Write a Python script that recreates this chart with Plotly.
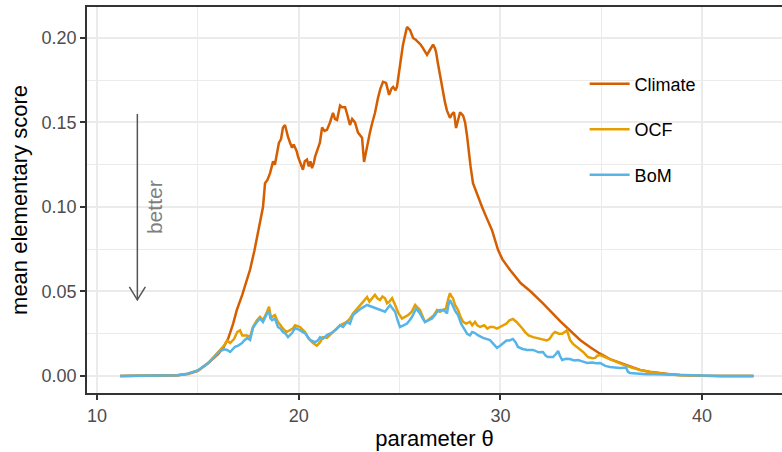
import plotly.graph_objects as go

# ---------------- data ----------------
climate_theta = [11.15, 12.0, 13.0, 13.5, 14.0, 14.5, 15.0, 15.5, 16.0, 16.25, 16.5, 16.75, 16.93, 17.2, 17.44,
                 17.59, 17.8, 18.08, 18.23, 18.33, 18.45, 18.58, 18.73, 18.82, 18.92, 19.02, 19.12, 19.22, 19.32,
                 19.4, 19.47, 19.57, 19.67, 19.75, 19.82, 19.9, 19.97, 20.1, 20.21, 20.3, 20.41, 20.5, 20.58,
                 20.66, 20.75, 20.81, 20.96, 21.05, 21.16, 21.28, 21.40, 21.55, 21.70, 21.8, 21.9, 22.05, 22.15,
                 22.30, 22.4, 22.54, 22.65, 22.79, 22.94, 23.05, 23.14, 23.24, 23.32, 23.39, 23.53, 23.65, 23.78,
                 23.93, 24.05, 24.18, 24.33, 24.48, 24.6, 24.68, 24.8, 24.87, 25.02, 25.17, 25.3, 25.37, 25.45,
                 25.52, 25.67, 25.8, 25.91, 26.05, 26.16, 26.25, 26.36, 26.51, 26.66, 26.75, 26.81, 26.9, 27.0,
                 27.15, 27.25, 27.35, 27.5, 27.6, 27.70, 27.8, 27.9, 28.0, 28.15, 28.25, 28.34, 28.44, 28.52,
                 28.64, 28.85, 29.09, 29.3, 29.58, 29.88, 30.1, 30.48, 31.0, 31.5, 32.11, 32.96, 33.45, 33.95,
                 34.45, 34.94, 35.43, 35.93, 36.42, 36.92, 37.4, 37.91, 38.4, 38.9, 39.5, 40.0, 41.0, 42.55]
climate_score = [0, 0, 0, 0.0001, 0.0004, 0.0012, 0.003, 0.0075, 0.013, 0.0166, 0.022, 0.031, 0.039, 0.048, 0.057,
                 0.063, 0.074, 0.0905, 0.100, 0.114, 0.116, 0.120, 0.127, 0.125, 0.131, 0.138, 0.140, 0.147, 0.1485,
                 0.144, 0.1414, 0.138, 0.135, 0.137, 0.1355, 0.133, 0.1296, 0.126, 0.122, 0.127, 0.128, 0.124, 0.127,
                 0.123, 0.126, 0.1296, 0.135, 0.138, 0.147, 0.145, 0.1456, 0.150, 0.1556, 0.152, 0.1515, 0.160, 0.159,
                 0.159, 0.155, 0.1485, 0.152, 0.150, 0.144, 0.142, 0.141, 0.1266, 0.132, 0.1367, 0.144, 0.150, 0.1556,
                 0.1645, 0.170, 0.174, 0.1734, 0.1663, 0.170, 0.171, 0.169, 0.171, 0.184, 0.196, 0.203, 0.2065, 0.2055,
                 0.2047, 0.200, 0.199, 0.1976, 0.196, 0.194, 0.192, 0.190, 0.193, 0.196, 0.194, 0.1917, 0.185, 0.178,
                 0.168, 0.162, 0.157, 0.1527, 0.155, 0.156, 0.1467, 0.152, 0.156, 0.154, 0.150, 0.1426, 0.130, 0.124,
                 0.114, 0.107, 0.100, 0.094, 0.0864, 0.0746, 0.069, 0.0627, 0.055, 0.050, 0.043, 0.0325, 0.027, 0.0213,
                 0.017, 0.0132, 0.010, 0.0077, 0.0055, 0.0036, 0.0025, 0.0016, 0.001, 0.0006, 0.0003, 0.0001, 0, 0]

ocf_theta = [11.15, 13.0, 13.5, 14.0, 14.5, 15.0, 15.5, 15.75, 16.1, 16.3, 16.45, 16.6, 16.8, 16.95, 17.09, 17.2,
             17.44, 17.59, 17.73, 17.93, 18.08, 18.23, 18.43, 18.53, 18.6, 18.68, 18.82, 18.97, 19.1, 19.22, 19.4,
             19.57, 19.7, 19.82, 20.06, 20.31, 20.5, 20.71, 20.9, 21.06, 21.2, 21.4, 21.7, 22.05, 22.39, 22.54,
             22.69, 22.89, 23.04, 23.2, 23.39, 23.5, 23.78, 23.9, 24.03, 24.15, 24.28, 24.38, 24.5, 24.63, 24.78,
             24.95, 25.12, 25.25, 25.42, 25.6, 25.77, 25.85, 26.01, 26.15, 26.26, 26.4, 26.51, 26.7, 26.86, 27.0,
             27.15, 27.3, 27.42, 27.50, 27.58, 27.65, 27.75, 27.90, 28.02, 28.15, 28.3, 28.49, 28.6, 28.74, 28.85,
             28.99, 29.2, 29.35, 29.48, 29.65, 29.83, 30.0, 30.13, 30.3, 30.45, 30.62, 30.8, 30.97, 31.1, 31.22,
             31.4, 31.62, 31.9, 32.11, 32.3, 32.44, 32.6, 32.71, 32.9, 33.06, 33.2, 33.3, 33.38, 33.45, 33.6, 33.8,
             34.1, 34.34, 34.55, 34.7, 34.8, 34.94, 35.43, 35.93, 36.42, 36.92, 37.4, 37.91, 38.4, 38.9, 39.5,
             40.0, 41.0, 42.55]
ocf_score = [0, 0, 0.0001, 0.0004, 0.0014, 0.0033, 0.0075, 0.0107, 0.0154, 0.018, 0.021, 0.0195, 0.022, 0.026,
             0.027, 0.024, 0.024, 0.023, 0.029, 0.033, 0.035, 0.033, 0.038, 0.041, 0.036, 0.035, 0.036, 0.032,
             0.030, 0.028, 0.026, 0.027, 0.028, 0.030, 0.029, 0.026, 0.022, 0.0195, 0.018, 0.020, 0.023, 0.0225,
             0.026, 0.030, 0.032, 0.034, 0.037, 0.040, 0.042, 0.044, 0.0467, 0.044, 0.048, 0.046, 0.045, 0.047,
             0.046, 0.043, 0.044, 0.046, 0.042, 0.037, 0.034, 0.035, 0.036, 0.038, 0.042, 0.041, 0.039, 0.035,
             0.032, 0.033, 0.034, 0.036, 0.039, 0.038, 0.039, 0.040, 0.046, 0.049, 0.047, 0.046, 0.042, 0.039,
             0.035, 0.032, 0.031, 0.032, 0.030, 0.032, 0.030, 0.029, 0.030, 0.028, 0.029, 0.029, 0.028, 0.029,
             0.0296, 0.031, 0.033, 0.0337, 0.032, 0.030, 0.028, 0.026, 0.024, 0.023, 0.022, 0.0213, 0.021, 0.022,
             0.025, 0.026, 0.025, 0.025, 0.026, 0.027, 0.024, 0.0213, 0.019, 0.0172, 0.0142, 0.0112, 0.0105,
             0.0107, 0.012, 0.0124, 0.0098, 0.0075, 0.0053, 0.0035, 0.0024, 0.0015, 0.0009, 0.0005, 0.0002,
             0.0001, 0, 0]

bom_theta = [11.15, 13.0, 13.5, 14.0, 14.5, 15.0, 15.5, 15.75, 16.1, 16.3, 16.45, 16.6, 16.84, 17.0, 17.19, 17.3,
             17.44, 17.59, 17.73, 17.93, 18.08, 18.23, 18.43, 18.53, 18.6, 18.68, 18.82, 18.97, 19.1, 19.22, 19.35,
             19.47, 19.57, 19.67, 19.82, 19.95, 20.06, 20.2, 20.31, 20.45, 20.56, 20.81, 20.95, 21.06, 21.2, 21.40,
             21.55, 21.70, 21.9, 22.05, 22.2, 22.39, 22.54, 22.69, 22.89, 23.1, 23.39, 23.6, 23.88, 24.1, 24.28,
             24.4, 24.53, 24.65, 24.78, 24.9, 25.02, 25.2, 25.37, 25.5, 25.62, 25.82, 25.9, 26.01, 26.15, 26.26,
             26.45, 26.61, 26.75, 26.86, 27.0, 27.15, 27.28, 27.35, 27.42, 27.50, 27.58, 27.65, 27.78, 27.90,
             28.05, 28.25, 28.35, 28.49, 28.6, 28.74, 28.9, 29.14, 29.3, 29.48, 29.65, 29.83, 30.0, 30.13, 30.3,
             30.45, 30.62, 30.75, 30.87, 31.1, 31.32, 31.62, 31.9, 32.11, 32.25, 32.36, 32.61, 32.75, 32.86, 32.95,
             33.06, 33.25, 33.45, 33.65, 33.85, 34.1, 34.3, 34.55, 34.75, 34.94, 35.2, 35.43, 35.7, 35.93, 36.23,
             36.32, 36.42, 36.8, 37.24, 37.6, 37.91, 38.2, 38.9, 39.5, 40.0, 40.1, 41.0, 42.55]
bom_score = [0, 0, 0.0001, 0.0004, 0.0014, 0.0033, 0.0075, 0.0105, 0.0148, 0.0158, 0.0154, 0.0142, 0.0172, 0.018,
             0.0195, 0.021, 0.0225, 0.0213, 0.0284, 0.032, 0.034, 0.032, 0.037, 0.038, 0.034, 0.033, 0.034, 0.029,
             0.028, 0.026, 0.025, 0.023, 0.024, 0.0254, 0.0284, 0.028, 0.0272, 0.026, 0.0254, 0.023, 0.0213, 0.020,
             0.021, 0.023, 0.022, 0.0243, 0.025, 0.026, 0.028, 0.030, 0.029, 0.032, 0.031, 0.036, 0.038, 0.040,
             0.042, 0.041, 0.040, 0.039, 0.038, 0.040, 0.042, 0.040, 0.038, 0.033, 0.029, 0.030, 0.031, 0.033,
             0.035, 0.040, 0.039, 0.037, 0.034, 0.032, 0.033, 0.034, 0.036, 0.038, 0.039, 0.039, 0.038, 0.037,
             0.042, 0.045, 0.043, 0.041, 0.038, 0.036, 0.031, 0.027, 0.025, 0.024, 0.026, 0.0254, 0.024, 0.0225,
             0.022, 0.0213, 0.019, 0.0166, 0.018, 0.0195, 0.021, 0.021, 0.0219, 0.020, 0.0172, 0.016, 0.0154,
             0.0154, 0.014, 0.0142, 0.012, 0.0112, 0.0112, 0.013, 0.0148, 0.012, 0.0095, 0.0102, 0.0100, 0.0092,
             0.0095, 0.0085, 0.0077, 0.008, 0.0075, 0.0077, 0.006, 0.0053, 0.005, 0.0047, 0.005, 0.0025, 0.0018,
             0.0013, 0.001, 0.001, 0.0009, 0.0005, 0.0003, 0.0002, 0.0003, 0.0001, 0, 0]

series_names = ["Climate", "OCF", "BoM"]
series_colors = ["#D55E00", "#E69F00", "#56B4E9"]

x_ticks = [10, 20, 30, 40]
y_ticks = [0.00, 0.05, 0.10, 0.15, 0.20]
y_tick_labels = ["0.00", "0.05", "0.10", "0.15", "0.20"]

arrow_x = 12
arrow_y_start = 0.155
arrow_y_end = 0.045
better_x = 12.88
better_y = 0.1

# ---------------- figure ----------------
FONT = "Liberation Sans, Arial, Helvetica, sans-serif"
fig = go.Figure()
for name, col, xs, ys in zip(series_names, series_colors,
                             [climate_theta, ocf_theta, bom_theta],
                             [climate_score, ocf_score, bom_score]):
    fig.add_trace(go.Scatter(x=xs, y=ys, mode="lines", name=name, legendgroup=name,
                             line=dict(color=col, width=2.5)))

grid = "#EBEBEB"
fig.update_layout(
    width=782, height=452,
    margin=dict(l=87, r=0, t=7, b=59),
    paper_bgcolor="white", plot_bgcolor="white",
    font=dict(family=FONT, color="black"),
    showlegend=True,
    legend=dict(x=0.716, y=0.848, xanchor="left", yanchor="top",
                bgcolor="rgba(0,0,0,0)", font=dict(size=18, color="black"),
                tracegroupgap=19, itemwidth=40),
    xaxis=dict(range=[9.504, 43.96], tickvals=x_ticks, ticks="outside", ticklen=5,
               tickwidth=1.5, tickcolor="#333333", showline=True, mirror=True,
               linecolor="#333333", linewidth=1.8, showgrid=True, gridcolor=grid,
               gridwidth=1.8, zeroline=False,
               minor=dict(dtick=5, showgrid=True, gridcolor=grid, gridwidth=0.9, ticks=""),
               tickfont=dict(size=18, color="#4D4D4D"),
               title=dict(text="parameter θ", font=dict(size=22, color="black"), standoff=6)),
    yaxis=dict(range=[-0.01006, 0.2183], tickvals=y_ticks, ticktext=y_tick_labels,
               ticks="outside", ticklen=5, tickwidth=1.5, tickcolor="#333333",
               showline=True, mirror=False, linecolor="#333333", linewidth=1.8,
               showgrid=True, gridcolor=grid, gridwidth=1.8, zeroline=False,
               minor=dict(dtick=0.025, showgrid=True, gridcolor=grid, gridwidth=0.9, ticks=""),
               tickfont=dict(size=18, color="#4D4D4D"),
               title=dict(text="mean elementary score", font=dict(size=22, color="black"), standoff=8)),
)

# white legend-key background (ggplot legend keys)
fig.add_shape(type="rect", xref="paper", yref="paper",
              x0=(585 - 87) / 695, x1=(632 - 87) / 695,
              y0=(393 - 200) / 386, y1=(393 - 60) / 386,
              fillcolor="white", line=dict(width=0), layer="between")

# "better" arrow
fig.add_shape(type="line", x0=arrow_x, x1=arrow_x, y0=arrow_y_start, y1=arrow_y_end,
              line=dict(color="#555555", width=1.5))
fig.add_shape(type="path", xsizemode="pixel", ysizemode="pixel",
              xanchor=arrow_x, yanchor=arrow_y_end,
              path="M -8,13 L 0,0 L 8,13", line=dict(color="#555555", width=1.5))
fig.add_annotation(x=better_x, y=better_y, text="better", showarrow=False, textangle=-90,
                   font=dict(size=21, color="#7F7F7F", family=FONT))

fig.write_html("out.html")
